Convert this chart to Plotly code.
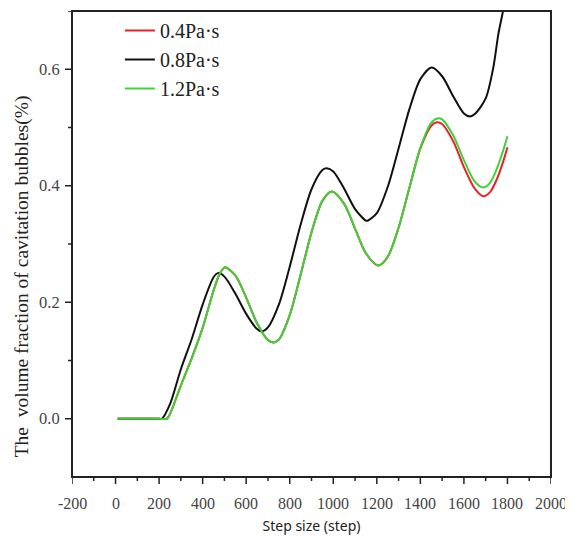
import plotly.graph_objects as go

# ---- data ----
steps_black = [10, 100, 200, 213, 250, 300, 350, 400, 450, 470, 500, 550, 600, 650, 670,
               700, 750, 800, 850, 900, 950, 970, 1000, 1050, 1100, 1150, 1158,
               1200, 1250, 1300, 1350, 1400, 1452, 1500, 1550, 1600, 1628,
               1650, 1700, 1735, 1758, 1778, 1800]
visc_08 = [0, 0, 0, 0, 0.025, 0.085, 0.137, 0.196, 0.243, 0.250, 0.244, 0.215, 0.180, 0.154, 0.150,
           0.157, 0.196, 0.261, 0.333, 0.394, 0.427, 0.430, 0.4245, 0.395, 0.360, 0.340, 0.340,
           0.353, 0.398, 0.464, 0.532, 0.583, 0.603, 0.588, 0.554, 0.524, 0.519,
           0.523, 0.550, 0.603, 0.660, 0.697, 0.745]

steps_green = [10, 100, 200, 236, 250, 300, 350, 400, 450, 480, 503, 550, 600, 650, 700, 725,
               750, 800, 850, 900, 950, 993, 1050, 1100, 1150, 1207,
               1250, 1300, 1350, 1400, 1450, 1482, 1500, 1550, 1600, 1650, 1689,
               1720, 1750, 1780, 1800]
visc_12 = [0, 0, 0, 0, 0.008, 0.057, 0.104, 0.156, 0.220, 0.250, 0.260, 0.246, 0.208, 0.164, 0.135, 0.131,
           0.136, 0.178, 0.247, 0.320, 0.374, 0.390, 0.369, 0.3265, 0.284, 0.263,
           0.278, 0.328, 0.397, 0.465, 0.508, 0.516, 0.514, 0.487, 0.444, 0.407, 0.397,
           0.405, 0.428, 0.460, 0.485]

steps_red = [10, 100, 200, 236, 250, 300, 350, 400, 450, 480, 503, 550, 600, 650, 700, 725,
             750, 800, 850, 900, 950, 993, 1050, 1100, 1150, 1207,
             1250, 1300, 1350, 1400, 1450, 1475, 1500, 1550, 1600, 1650, 1689,
             1720, 1750, 1780, 1800]
visc_04 = [0, 0, 0, 0, 0.008, 0.057, 0.104, 0.156, 0.220, 0.250, 0.260, 0.246, 0.208, 0.164, 0.135, 0.131,
           0.136, 0.178, 0.247, 0.320, 0.374, 0.390, 0.369, 0.3265, 0.284, 0.263,
           0.278, 0.328, 0.397, 0.464, 0.503, 0.509, 0.506, 0.477, 0.432, 0.395, 0.382,
           0.389, 0.410, 0.441, 0.466]

series_names = ["0.4Pa·s", "0.8Pa·s", "1.2Pa·s"]
x_ticks = [-200, 0, 200, 400, 600, 800, 1000, 1200, 1400, 1600, 1800, 2000]
x_tick_labels = ["-200", "0", "200", "400", "600", "800", "1000", "1200", "1400", "1600", "1800", "2000"]
y_ticks = [0.0, 0.2, 0.4, 0.6]
y_tick_labels = ["0.0", "0.2", "0.4", "0.6"]
y_range = [-0.1, 0.7]

SERIF = "Liberation Serif"
AX = "#222222"
LBL = "#444444"
PLOT_W, PLOT_H = 479, 466

fig = go.Figure()
fig.add_trace(go.Scatter(x=steps_red, y=visc_04, mode="lines", name=series_names[0],
                         line=dict(color="#e8202a", width=2, shape="spline", smoothing=0.8),
                         legendgroup="a"))
fig.add_trace(go.Scatter(x=steps_black, y=visc_08, mode="lines", name=series_names[1],
                         line=dict(color="#111111", width=2, shape="spline", smoothing=0.8),
                         legendgroup="b"))
fig.add_trace(go.Scatter(x=steps_green, y=visc_12, mode="lines", name=series_names[2],
                         line=dict(color="#3dd23a", width=2, shape="spline", smoothing=0.8),
                         legendgroup="c"))

# frame + tick marks (decorations tied to the axis scales)
shapes = [dict(type="rect", xref="paper", yref="paper", x0=0, x1=1, y0=0, y1=1,
               line=dict(color=AX, width=2), fillcolor="rgba(0,0,0,0)", layer="above")]
x_minor = [(a + b) / 2 for a, b in zip(x_ticks[:-1], x_ticks[1:])]
y_minor = [(a + b) / 2 for a, b in zip(y_ticks[:-1], y_ticks[1:])] + [y_ticks[-1] + (y_ticks[1] - y_ticks[0]) / 2]
for v in x_ticks:
    shapes.append(dict(type="line", xref="x", yref="paper", x0=v, x1=v, y0=0, y1=-7 / PLOT_H,
                       line=dict(color=AX, width=1.5)))
for v in x_minor:
    shapes.append(dict(type="line", xref="x", yref="paper", x0=v, x1=v, y0=0, y1=-4 / PLOT_H,
                       line=dict(color=AX, width=1.5)))
for v in y_ticks:
    shapes.append(dict(type="line", xref="paper", yref="y", x0=0, x1=-7 / PLOT_W, y0=v, y1=v,
                       line=dict(color=AX, width=1.5)))
for v in y_minor:
    shapes.append(dict(type="line", xref="paper", yref="y", x0=0, x1=-4 / PLOT_W, y0=v, y1=v,
                       line=dict(color=AX, width=1.5)))

# tick labels as text annotations placed on the axis scales
annotations = [dict(text="The\u00a0\u00a0volume fraction of cavitation bubbles(%)",
                    xref="paper", yref="paper", x=-0.104, y=0.431, xanchor="center", yanchor="middle",
                    textangle=-90, showarrow=False,
                    font=dict(family=SERIF, size=19.5, color=AX))]
for v, t in zip(x_ticks, x_tick_labels):
    annotations.append(dict(text=t, xref="x", yref="paper", x=v, y=-26 / PLOT_H,
                            xanchor="center", yanchor="middle", showarrow=False,
                            font=dict(family=SERIF, size=16, color=LBL)))
for v, t in zip(y_ticks, y_tick_labels):
    annotations.append(dict(text=t, xref="paper", yref="y", x=-10 / PLOT_W, y=v,
                            xanchor="right", yanchor="middle", showarrow=False,
                            font=dict(family=SERIF, size=16.5, color=LBL)))

fig.update_layout(
    template="none",
    font=dict(family=SERIF, color=AX),
    width=565, height=529,
    margin=dict(l=64, r=22, t=3, b=60),
    paper_bgcolor="white", plot_bgcolor="white",
    showlegend=True,
    legend=dict(x=0.1, y=1.0, xanchor="left", yanchor="top",
                font=dict(family=SERIF, size=20, color=AX),
                traceorder="grouped", tracegroupgap=0,
                bgcolor="rgba(0,0,0,0)", borderwidth=0),
    annotations=annotations,
    shapes=shapes,
)

fig.update_xaxes(range=[x_ticks[0], x_ticks[-1]], showticklabels=False, ticks="",
                 showline=False, showgrid=False, zeroline=False,
                 title=dict(text="Step size (step)", standoff=44,
                            font=dict(family="Noto Sans", size=14, color=AX)))
fig.update_yaxes(range=y_range, showticklabels=False, ticks="",
                 showline=False, showgrid=False, zeroline=False)

fig.write_html("out.html")
